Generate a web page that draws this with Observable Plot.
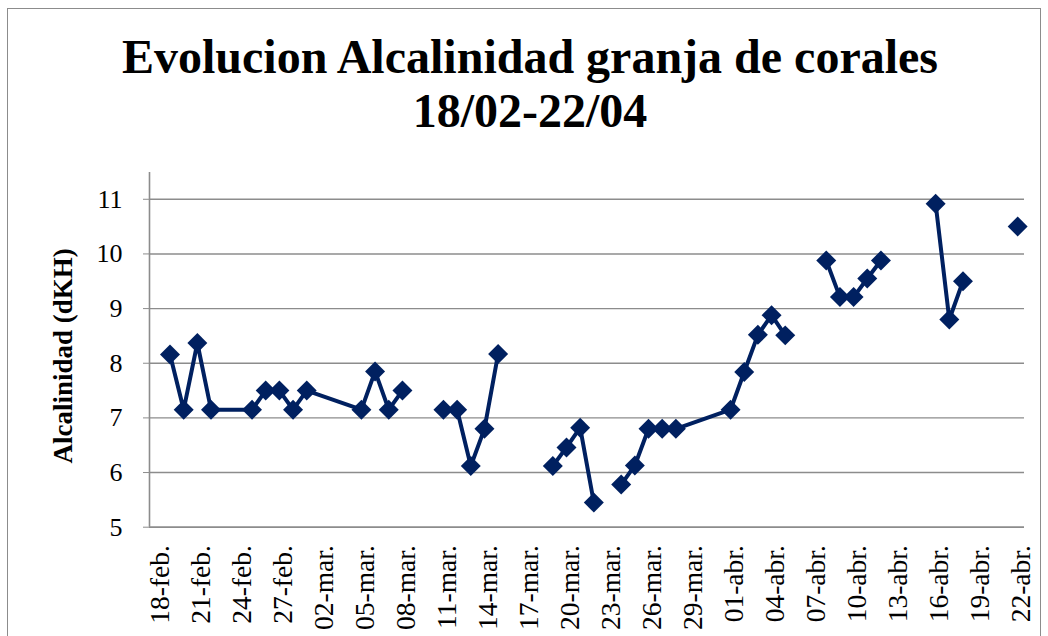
<!DOCTYPE html>
<html><head><meta charset="utf-8">
<script src="https://cdn.jsdelivr.net/npm/d3@7"></script>
<script src="https://cdn.jsdelivr.net/npm/@observablehq/plot@0.6"></script>
<style>
html,body{margin:0;padding:0;background:#fff;overflow:hidden;width:1048px;height:636px;}
#wrap{position:relative;width:1048px;height:636px;overflow:hidden;}
#border{position:absolute;left:7px;top:8px;width:1034px;height:700px;border:1px solid #8c8c8c;box-sizing:border-box;}
#title{position:absolute;left:7px;width:1046px;top:30px;text-align:center;font-family:"Liberation Serif",serif;font-weight:bold;font-size:48px;line-height:54px;color:#000;}
#chart{position:absolute;left:0;top:0;}
#chart svg, #chart svg text{font-family:"Liberation Serif",serif !important;}
</style></head>
<body>
<div id="wrap">
  <div id="border"></div>
  <div id="chart"></div>
  <div id="title">Evolucion Alcalinidad granja de corales<br>18/02-22/04</div>
</div>
<script>
// Measurement dates (null value = break in the line)
const dates = ["2011-02-19","2011-02-20","2011-02-21","2011-02-22","2011-02-25","2011-02-26","2011-02-27","2011-02-28",
  "2011-03-01","2011-03-05","2011-03-06","2011-03-07","2011-03-08","2011-03-09",
  "2011-03-11","2011-03-12","2011-03-13","2011-03-14","2011-03-15","2011-03-16",
  "2011-03-19","2011-03-20","2011-03-21","2011-03-22","2011-03-23",
  "2011-03-24","2011-03-25","2011-03-26","2011-03-27","2011-03-28",
  "2011-04-01","2011-04-02","2011-04-03","2011-04-04","2011-04-05","2011-04-06",
  "2011-04-08","2011-04-09","2011-04-10","2011-04-11","2011-04-12","2011-04-13",
  "2011-04-16","2011-04-17","2011-04-18","2011-04-19","2011-04-22"];
const values = [8.16,7.15,8.37,7.15,7.15,7.5,7.5,7.15,
  7.5,7.15,7.85,7.15,7.5,null,
  7.15,7.15,6.12,6.8,8.17,null,
  6.12,6.46,6.82,5.45,null,
  5.78,6.13,6.8,6.8,6.8,
  7.15,7.84,8.52,8.88,8.51,null,
  9.88,9.21,9.21,9.55,9.88,null,
  10.92,8.8,9.5,null,10.5];
const tickLabels = ["18-feb.","21-feb.","24-feb.","27-feb.","02-mar.","05-mar.","08-mar.","11-mar.","14-mar.","17-mar.","20-mar.",
  "23-mar.","26-mar.","29-mar.","01-abr.","04-abr.","07-abr.","10-abr.","13-abr.","16-abr.","19-abr.","22-abr."];
const yTicks = [5,6,7,8,9,10,11];
const yLabel = "Alcalinidad (dKH)";

const parse = d3.utcParse("%Y-%m-%d");
const X = dates.map(parse);
const xStart = parse("2011-02-18"), xEnd = parse("2011-04-22");
const xTicks = d3.utcDay.range(xStart, d3.utcDay.offset(xEnd, 1), 3);
const labelOf = new Map(xTicks.map((d, i) => [+d, tickLabels[i]]));
const xDomain = [d3.utcHour.offset(xStart, -12), d3.utcHour.offset(xEnd, 12)];
const navy = "#002060", grid = "#8c8c8c";
const serif = '"Liberation Serif", serif';

const chart = Plot.plot({
  width: 1048, height: 636,
  marginTop: 172, marginBottom: 109.3, marginLeft: 149, marginRight: 24,
  style: 'font-family: "Liberation Serif", serif; font-size: 25px; color: #000; background: transparent; overflow: visible;',
  x: {type: "utc", domain: xDomain},
  y: {domain: [5, 11.49]},
  marks: [
    Plot.gridY(yTicks, {stroke: grid, strokeOpacity: 1, strokeWidth: 1.4}),
    Plot.ruleX([xDomain[0]], {stroke: grid, strokeWidth: 1.6}),
    Plot.ruleY([5], {stroke: grid, strokeWidth: 1.6}),
    Plot.axisY({ticks: yTicks, tickSize: 6, tickPadding: 21, stroke: grid, fontFamily: serif, fontSize: 26, tickFormat: d => String(d), label: null}),
    Plot.axisX({ticks: xTicks, tickSize: 0, tickPadding: 18, tickRotate: -90, dx: 4, fontFamily: serif, fontSize: 27.5, tickFormat: d => labelOf.get(+d), label: null}),
    Plot.text([yLabel], {text: d => d, frameAnchor: "left", textAnchor: "middle", dx: -86, dy: 6, rotate: -90, fontFamily: serif, fontWeight: "bold", fontSize: 27}),
    Plot.line(values, {x: X, y: values, stroke: navy, strokeWidth: 4}),
    Plot.dot(values, {x: X, y: values, symbol: "diamond2", r: 9, fill: navy})
  ]
});
document.getElementById("chart").appendChild(chart);
</script>
</body></html>
